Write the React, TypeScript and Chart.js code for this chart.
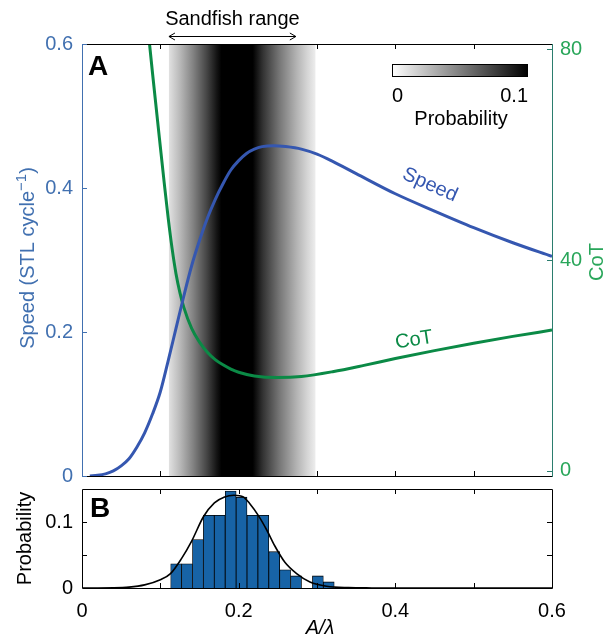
import React, { useEffect, useRef } from 'react';
import { Chart, registerables } from 'chart.js';
Chart.register(...registerables);

const FONT = '"Liberation Sans", Arial, Helvetica, sans-serif';

// ---- Panel A data ----
const speedX = [0.01, 0.02, 0.03, 0.04, 0.05, 0.06, 0.07, 0.08, 0.09, 0.1, 0.11, 0.12, 0.13, 0.14, 0.15, 0.16, 0.17, 0.18, 0.19, 0.2, 0.21, 0.22, 0.23, 0.245, 0.26, 0.28, 0.3, 0.32, 0.35, 0.4, 0.45, 0.5, 0.55, 0.6];
const speedY = [0, 0.001, 0.003, 0.007, 0.014, 0.024, 0.04, 0.06, 0.086, 0.117, 0.16, 0.205, 0.25, 0.292, 0.327, 0.358, 0.384, 0.406, 0.425, 0.438, 0.448, 0.454, 0.4575, 0.4588, 0.4575, 0.454, 0.447, 0.437, 0.42, 0.392, 0.368, 0.345, 0.324, 0.305];

const cotX = [0.07, 0.08, 0.09, 0.1, 0.105, 0.11, 0.115, 0.12, 0.125, 0.13, 0.14, 0.15, 0.16, 0.17, 0.18, 0.19, 0.2, 0.22, 0.25, 0.28, 0.32, 0.36, 0.4, 0.45, 0.5, 0.55, 0.6];
const cotY = [104, 90, 75.5, 61.5, 54.6, 48, 42.2, 37.4, 33.8, 31.0, 27.0, 24.4, 22.5, 21.1, 20.1, 19.3, 18.7, 18.0, 17.7, 17.9, 18.8, 20.0, 21.3, 22.8, 24.2, 25.5, 26.7];

// probability density shown as grey band (sandfish range)
const bandX = [0.111, 0.125, 0.142, 0.159, 0.172, 0.178, 0.198, 0.218, 0.231, 0.2526, 0.274, 0.288, 0.298];
const bandP = [0.0118, 0.0275, 0.049, 0.0725, 0.092, 0.1, 0.14, 0.1, 0.08, 0.053, 0.03, 0.016, 0.007];
const sandfishRange = [0.111, 0.273];
const colorbarTicks = [0, 0.1];

const xTicksA = [0.1, 0.2, 0.3, 0.4, 0.5];
const speedTicks = [0, 0.2, 0.4, 0.6];
const cotTicks = [0, 40, 80];

// ---- Panel B data ----
const binCenters = [0.1202, 0.1341, 0.148, 0.1619, 0.1758, 0.1898, 0.2037, 0.2176, 0.2315, 0.2454, 0.2593, 0.2733, 0.2872, 0.3011, 0.315];
const binProb = [0.0367, 0.0367, 0.0734, 0.1101, 0.1101, 0.1468, 0.1376, 0.1101, 0.1101, 0.055, 0.0275, 0.0183, 0, 0.0183, 0.0092];
const fitX = [0, 0.04, 0.06, 0.08, 0.1, 0.113, 0.127, 0.14, 0.155, 0.169, 0.182, 0.194, 0.206, 0.214, 0.225, 0.236, 0.246, 0.259, 0.274, 0.291, 0.312, 0.34, 0.37, 0.4, 0.6];
const fitY = [0, 0.0003, 0.0013, 0.0047, 0.0125, 0.0218, 0.0445, 0.071, 0.108, 0.129, 0.138, 0.1405, 0.138, 0.128, 0.11, 0.0875, 0.064, 0.039, 0.0218, 0.009, 0.0026, 0.0005, 0.0001, 0, 0];
const xTicksB = [0.1, 0.2, 0.3, 0.4, 0.5];
const xLabelsB = [0, 0.2, 0.4, 0.6];
const yTicksB = [0.05, 0.1];
const yLabelsB = [0, 0.1];

// ---- styles ----
const speedColor = '#3557b0';
const speedAxisColor = '#4170b0';
const cotColor = '#0b8a46';
const cotAxisColor = '#29a65a';
const cotSpineColor = '#2b7d6e';
const histColor = '#1763a6';
const TL = 5;

const fmt = (v: number) => String(+Number(v).toFixed(3));

function rotText(ctx: CanvasRenderingContext2D, text: string, x: number, y: number, ang: number, font: string, color: string) {
  ctx.save();
  ctx.translate(x, y);
  ctx.rotate(ang);
  ctx.font = font;
  ctx.fillStyle = color;
  ctx.textAlign = 'center';
  ctx.textBaseline = 'middle';
  ctx.fillText(text, 0, 0);
  ctx.restore();
}

const noPadY = (w: number) => (s: any) => {
  s.width = w;
  s.paddingTop = 0;
  s.paddingBottom = 0;
};
const noPadX = (h: number) => (s: any) => {
  s.height = h;
  s.paddingLeft = 0;
  s.paddingRight = 0;
};

const panelA = {
  id: 'panelA',
  beforeDatasetsDraw(chart: any) {
    const { ctx, chartArea: a, scales } = chart;
    const xs = scales.x;
    const x0 = xs.getPixelForValue(bandX[0]);
    const x1 = xs.getPixelForValue(bandX[bandX.length - 1]);
    const g = ctx.createLinearGradient(x0, 0, x1, 0);
    const pmax = colorbarTicks[colorbarTicks.length - 1];
    bandX.forEach((v, i) => {
      const t = (xs.getPixelForValue(v) - x0) / (x1 - x0);
      const c = Math.round(255 * (1 - Math.min(bandP[i] / pmax, 1)));
      g.addColorStop(Math.min(Math.max(t, 0), 1), `rgb(${c},${c},${c})`);
    });
    ctx.save();
    ctx.fillStyle = g;
    ctx.fillRect(x0, a.top, x1 - x0, a.bottom - a.top);
    ctx.restore();
  },
  afterDraw(chart: any) {
    const { ctx, chartArea: a, scales } = chart;
    const { x, y, y1 } = scales;
    ctx.save();
    ctx.lineWidth = 1;
    // x ticks top and bottom (inside)
    ctx.strokeStyle = '#000';
    ctx.beginPath();
    for (const v of xTicksA) {
      const px = Math.round(x.getPixelForValue(v)) + 0.5;
      ctx.moveTo(px, a.bottom);
      ctx.lineTo(px, a.bottom - TL);
      ctx.moveTo(px, a.top);
      ctx.lineTo(px, a.top + TL);
    }
    ctx.moveTo(a.left, a.top + 0.5);
    ctx.lineTo(a.right + 1, a.top + 0.5);
    ctx.moveTo(a.left, a.bottom + 0.5);
    ctx.lineTo(a.right + 1, a.bottom + 0.5);
    ctx.stroke();
    // left spine + ticks
    ctx.strokeStyle = speedAxisColor;
    ctx.beginPath();
    ctx.moveTo(a.left + 0.5, a.top);
    ctx.lineTo(a.left + 0.5, a.bottom + 1);
    for (const v of speedTicks) {
      const py = Math.round(y.getPixelForValue(v)) + 0.5;
      ctx.moveTo(a.left, py);
      ctx.lineTo(a.left + TL, py);
    }
    ctx.stroke();
    // right spine + ticks
    ctx.strokeStyle = cotSpineColor;
    ctx.beginPath();
    ctx.moveTo(a.right + 0.5, a.top);
    ctx.lineTo(a.right + 0.5, a.bottom + 1);
    for (const v of cotTicks) {
      const py = Math.round(y1.getPixelForValue(v)) + 0.5;
      ctx.moveTo(a.right + 1, py);
      ctx.lineTo(a.right - TL, py);
    }
    ctx.stroke();

    // panel letter
    ctx.font = `bold 28px ${FONT}`;
    ctx.fillStyle = '#000';
    ctx.textAlign = 'left';
    ctx.textBaseline = 'alphabetic';
    ctx.fillText('A', a.left + 6, a.top + 31);

    // Sandfish range + arrow
    const ax0 = x.getPixelForValue(sandfishRange[0]);
    const ax1 = x.getPixelForValue(sandfishRange[1]);
    ctx.font = `20px ${FONT}`;
    ctx.textAlign = 'center';
    ctx.textBaseline = 'middle';
    ctx.fillText('Sandfish range', (ax0 + ax1) / 2, 19);
    ctx.strokeStyle = '#000';
    ctx.beginPath();
    const ay = 36.5;
    ctx.moveTo(ax0, ay);
    ctx.lineTo(ax1, ay);
    ctx.moveTo(ax0 + 6, ay - 3.5);
    ctx.lineTo(ax0, ay);
    ctx.lineTo(ax0 + 6, ay + 3.5);
    ctx.moveTo(ax1 - 6, ay - 3.5);
    ctx.lineTo(ax1, ay);
    ctx.lineTo(ax1 - 6, ay + 3.5);
    ctx.stroke();

    // colorbar
    const cbx = 392, cby = 64, cbw = 136, cbh = 13;
    const cg = ctx.createLinearGradient(cbx, 0, cbx + cbw, 0);
    cg.addColorStop(0, '#ffffff');
    cg.addColorStop(1, '#000000');
    ctx.fillStyle = cg;
    ctx.fillRect(cbx, cby, cbw, cbh);
    ctx.strokeStyle = '#000';
    ctx.strokeRect(cbx + 0.5, cby + 0.5, cbw - 1, cbh - 1);
    ctx.fillStyle = '#000';
    ctx.font = `20px ${FONT}`;
    ctx.textBaseline = 'middle';
    ctx.textAlign = 'left';
    ctx.fillText(fmt(colorbarTicks[0]), cbx, 96);
    ctx.textAlign = 'right';
    ctx.fillText(fmt(colorbarTicks[1]), cbx + cbw, 96);
    ctx.textAlign = 'center';
    ctx.fillText('Probability', cbx + cbw / 2 + 1, 119);

    // curve labels
    rotText(ctx, 'Speed', 430, 185, (24 * Math.PI) / 180, `20px ${FONT}`, speedColor);
    rotText(ctx, 'CoT', 414, 340, (-9 * Math.PI) / 180, `20px ${FONT}`, cotColor);

    // left axis title with superscript
    ctx.save();
    ctx.translate(27, 258);
    ctx.rotate(-Math.PI / 2);
    ctx.fillStyle = speedAxisColor;
    ctx.textBaseline = 'alphabetic';
    ctx.textAlign = 'left';
    const main = 'Speed (STL cycle';
    const sup = '\u22121';
    const close = ')';
    ctx.font = `20px ${FONT}`;
    const w1 = ctx.measureText(main).width;
    const w3 = ctx.measureText(close).width;
    ctx.font = `15px ${FONT}`;
    const w2 = ctx.measureText(sup).width;
    const tot = w1 + w2 + w3;
    let sx = -tot / 2;
    ctx.font = `20px ${FONT}`;
    ctx.fillText(main, sx, 7);
    sx += w1;
    ctx.font = `15px ${FONT}`;
    ctx.fillText(sup, sx, -1);
    sx += w2;
    ctx.font = `20px ${FONT}`;
    ctx.fillText(close, sx, 7);
    ctx.restore();

    // right axis title
    rotText(ctx, 'CoT', 597, 262, -Math.PI / 2, `20px ${FONT}`, cotAxisColor);
    ctx.restore();
  },
};

const panelB = {
  id: 'panelB',
  afterDraw(chart: any) {
    const { ctx, chartArea: a, scales } = chart;
    const { x, y } = scales;
    ctx.save();
    ctx.lineWidth = 1;
    ctx.strokeStyle = '#000';
    ctx.beginPath();
    ctx.rect(a.left + 0.5, a.top + 0.5, a.right - a.left, a.bottom - a.top);
    for (const v of xTicksB) {
      const px = Math.round(x.getPixelForValue(v)) + 0.5;
      ctx.moveTo(px, a.bottom);
      ctx.lineTo(px, a.bottom - TL);
      ctx.moveTo(px, a.top);
      ctx.lineTo(px, a.top + TL);
    }
    for (const v of yTicksB) {
      const py = Math.round(y.getPixelForValue(v)) + 0.5;
      ctx.moveTo(a.left, py);
      ctx.lineTo(a.left + TL, py);
      ctx.moveTo(a.right + 1, py);
      ctx.lineTo(a.right - TL, py);
    }
    ctx.stroke();

    ctx.font = `bold 28px ${FONT}`;
    ctx.fillStyle = '#000';
    ctx.textAlign = 'left';
    ctx.textBaseline = 'alphabetic';
    ctx.fillText('B', a.left + 8, a.top + 28);

    rotText(ctx, 'Probability', 25, (a.top + a.bottom) / 2, -Math.PI / 2, `20px ${FONT}`, '#000');
    ctx.font = `italic 20px ${FONT}`;
    ctx.fillStyle = '#000';
    ctx.textAlign = 'center';
    ctx.textBaseline = 'middle';
    ctx.fillText('A/\u03bb', (a.left + a.right) / 2 + 3, 146);
    ctx.restore();
  },
};

export default function App() {
  const refA = useRef<HTMLCanvasElement>(null);
  const refB = useRef<HTMLCanvasElement>(null);

  useEffect(() => {
    Chart.defaults.font.family = FONT;
    Chart.defaults.font.size = 20;
    const chartA = new Chart(refA.current!, {
      type: 'line',
      data: {
        datasets: [
          {
            data: speedX.map((v, i) => ({ x: v, y: speedY[i] })),
            yAxisID: 'y',
            borderColor: speedColor,
            borderWidth: 3,
            pointRadius: 0,
            cubicInterpolationMode: 'monotone',
          },
          {
            data: cotX.map((v, i) => ({ x: v, y: cotY[i] })),
            yAxisID: 'y1',
            borderColor: cotColor,
            borderWidth: 3,
            pointRadius: 0,
            cubicInterpolationMode: 'monotone',
          },
        ],
      },
      options: {
        animation: false,
        responsive: false,
        devicePixelRatio: 1,
        layout: { padding: { top: 44, left: 0, right: 0, bottom: 0 } },
        scales: {
          x: {
            type: 'linear',
            min: 0,
            max: 0.6,
            ticks: { display: false },
            grid: { display: false, drawTicks: false },
            border: { display: false },
            afterFit: noPadX(6),
          },
          y: {
            type: 'linear',
            position: 'left',
            min: 0,
            max: 0.6,
            afterBuildTicks: (s: any) => { s.ticks = speedTicks.map((v) => ({ value: v })); },
            ticks: { color: speedAxisColor, font: { size: 20 }, padding: 9, callback: (v: any) => fmt(v) },
            grid: { display: false, drawTicks: false },
            border: { display: false },
            afterFit: noPadY(82),
          },
          y1: {
            type: 'linear',
            position: 'right',
            min: -1,
            max: 81,
            afterBuildTicks: (s: any) => { s.ticks = cotTicks.map((v) => ({ value: v })); },
            ticks: { color: cotAxisColor, font: { size: 20 }, padding: 8, callback: (v: any) => fmt(v) },
            grid: { display: false, drawTicks: false },
            border: { display: false },
            afterFit: noPadY(63),
          },
        },
        plugins: { legend: { display: false }, tooltip: { enabled: false } },
      },
      plugins: [panelA],
    } as any);

    const chartB = new Chart(refB.current!, {
      type: 'bar',
      data: {
        datasets: [
          {
            type: 'line',
            data: fitX.map((v, i) => ({ x: v, y: fitY[i] })),
            borderColor: '#000',
            borderWidth: 1.6,
            pointRadius: 0,
            cubicInterpolationMode: 'monotone',
            order: 0,
          },
          {
            type: 'bar',
            data: binCenters.map((v, i) => ({ x: v, y: binProb[i] })),
            backgroundColor: histColor,
            borderColor: '#000',
            borderWidth: 0.8,
            barPercentage: 1,
            categoryPercentage: 1,
            order: 1,
          },
        ],
      },
      options: {
        animation: false,
        responsive: false,
        devicePixelRatio: 1,
        layout: { padding: { top: 7, left: 0, right: 63, bottom: 0 } },
        scales: {
          x: {
            type: 'linear',
            min: 0,
            max: 0.6,
            offset: false,
            afterBuildTicks: (s: any) => { s.ticks = xLabelsB.map((v) => ({ value: v })); },
            ticks: { color: '#000', font: { size: 20 }, padding: 11, maxRotation: 0, autoSkip: false, callback: (v: any) => fmt(v) },
            grid: { display: false, drawTicks: false, offset: false },
            border: { display: false },
            afterFit: noPadX(48),
          },
          y: {
            type: 'linear',
            min: 0,
            max: 0.15,
            afterBuildTicks: (s: any) => { s.ticks = yLabelsB.map((v) => ({ value: v })); },
            ticks: { color: '#000', font: { size: 20 }, padding: 9, callback: (v: any) => fmt(v) },
            grid: { display: false, drawTicks: false },
            border: { display: false },
            afterFit: noPadY(82),
          },
        },
        plugins: { legend: { display: false }, tooltip: { enabled: false } },
      },
      plugins: [panelB],
    } as any);

    return () => {
      chartA.destroy();
      chartB.destroy();
    };
  }, []);

  return (
    <div style={{ position: 'absolute', left: 0, top: 0, width: 615, height: 636, background: '#fff' }}>
      <canvas ref={refA} width={615} height={482} style={{ position: 'absolute', left: 0, top: 0, display: 'block' }} />
      <canvas ref={refB} width={615} height={154} style={{ position: 'absolute', left: 0, top: 482, display: 'block' }} />
    </div>
  );
}
